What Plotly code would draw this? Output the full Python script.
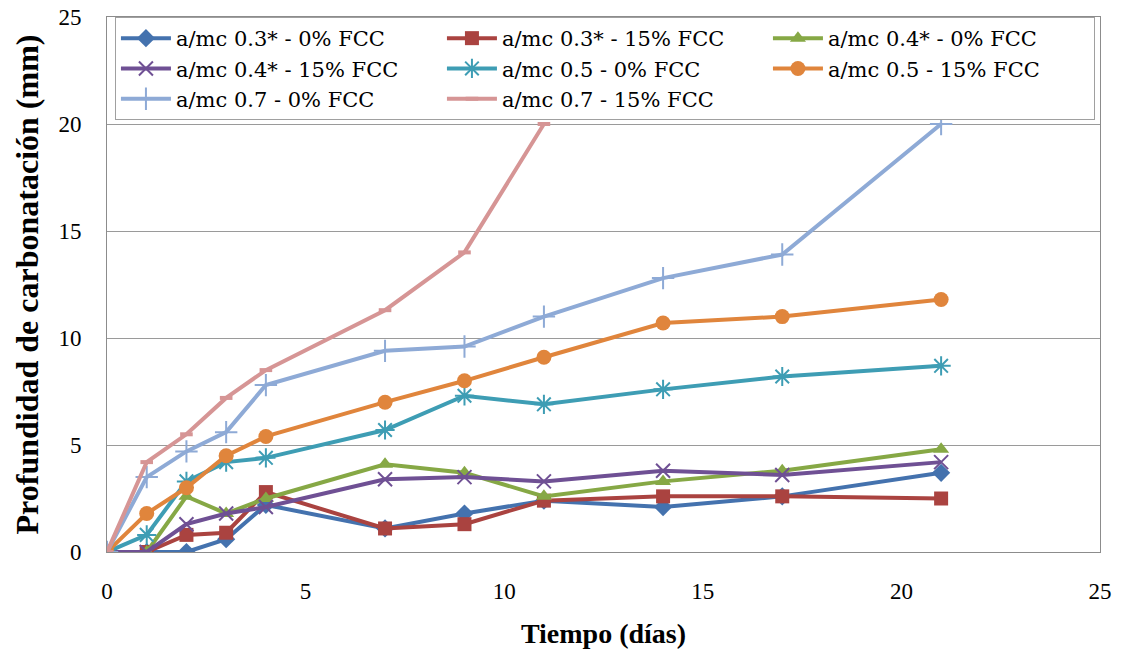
import plotly.graph_objects as go

days = [0, 1, 2, 3, 4, 7, 9, 11, 14, 17, 21]
days_07_15 = [0, 1, 2, 3, 4, 7, 9, 11]

s03_0 = [0, 0, 0, 0.6, 2.2, 1.1, 1.8, 2.4, 2.1, 2.6, 3.7]
s03_15 = [0, 0, 0.8, 0.9, 2.8, 1.1, 1.3, 2.4, 2.6, 2.6, 2.5]
s04_0 = [0, 0, 2.6, 1.8, 2.5, 4.1, 3.7, 2.6, 3.3, 3.8, 4.8]
s04_15 = [0, 0, 1.3, 1.8, 2.1, 3.4, 3.5, 3.3, 3.8, 3.6, 4.2]
s05_0 = [0, 0.8, 3.3, 4.2, 4.4, 5.7, 7.3, 6.9, 7.6, 8.2, 8.7]
s05_15 = [0, 1.8, 3.0, 4.5, 5.4, 7.0, 8.0, 9.1, 10.7, 11.0, 11.8]
s07_0 = [0, 3.5, 4.7, 5.6, 7.8, 9.4, 9.6, 11.0, 12.8, 13.9, 20.0]
s07_15 = [0, 4.2, 5.5, 7.2, 8.5, 11.3, 14.0, 20.0]

names = ["a/mc 0.3* - 0% FCC", "a/mc 0.3* - 15% FCC", "a/mc 0.4* - 0% FCC",
         "a/mc 0.4* - 15% FCC", "a/mc 0.5 - 0% FCC", "a/mc 0.5 - 15% FCC",
         "a/mc 0.7 - 0% FCC", "a/mc 0.7 - 15% FCC"]

series = [
    (days, s03_0, "#4472AE", "diamond", 14, None),
    (days, s03_15, "#AA4340", "square", 14, None),
    (days, s04_0, "#86A845", "triangle-up", 14, None),
    (days, s04_15, "#6F5094", "x-thin-open", 14, 2),
    (days, s05_0, "#3E9DB4", "asterisk-open", 16, 2),
    (days, s05_15, "#E0853C", "circle", 15, None),
    (days, s07_0, "#8EAAD6", "cross-thin-open", 16, 2),
    (days_07_15, s07_15, "#D69595", "line-ew-open", 9, 4),
]

fig = go.Figure()
for (x, y, c, sym, sz, lw), nm in zip(series, names):
    mk = dict(symbol=sym, size=sz, color=c)
    if lw:
        mk["line"] = dict(color=c, width=lw)
    fig.add_trace(go.Scatter(x=x, y=y, name=nm, mode="lines+markers",
                             line=dict(color=c, width=4), marker=mk))

font = "Liberation Serif, DejaVu Serif, serif"
lfont = "DejaVu Serif"
fig.update_layout(
    width=1122, height=650,
    margin=dict(l=107, r=22, t=17, b=98),
    paper_bgcolor="white", plot_bgcolor="white",
    font=dict(family=font, size=22, color="black"),
    showlegend=True,
    legend=dict(orientation="h", x=0.008, y=1.0, xanchor="left", yanchor="top",
                bgcolor="white", bordercolor="#A0A0A0", borderwidth=1,
                font=dict(family=lfont, size=21, color="black"), itemwidth=50,
                entrywidth=261, entrywidthmode="pixels", tracegroupgap=0,
                traceorder="normal"),
    xaxis=dict(range=[0, 25], tickvals=[0, 5, 10, 15, 20, 25], showgrid=False,
               zeroline=False, showline=True, linecolor="#8C8C8C", linewidth=1,
               mirror=True, ticks="", ticklabelstandoff=18, automargin=False,
               tickfont=dict(family=font, size=23, color="black"),
               title=dict(text="<b>Tiempo (días)</b>",
                          font=dict(family=font, size=28, color="black"), standoff=20)),
    yaxis=dict(range=[0, 25], tickvals=[0, 5, 10, 15, 20, 25], showgrid=True,
               gridcolor="#9A9A9A", gridwidth=1, zeroline=False, showline=True,
               linecolor="#8C8C8C", linewidth=1, mirror=True, ticks="",
               ticklabelstandoff=20, automargin=False,
               tickfont=dict(family=font, size=23, color="black"),
               title=dict(text="<b>Profundidad de carbonatación (mm)</b>",
                          font=dict(family=font, size=32, color="black"), standoff=10)),
)
fig.write_html("out.html")
